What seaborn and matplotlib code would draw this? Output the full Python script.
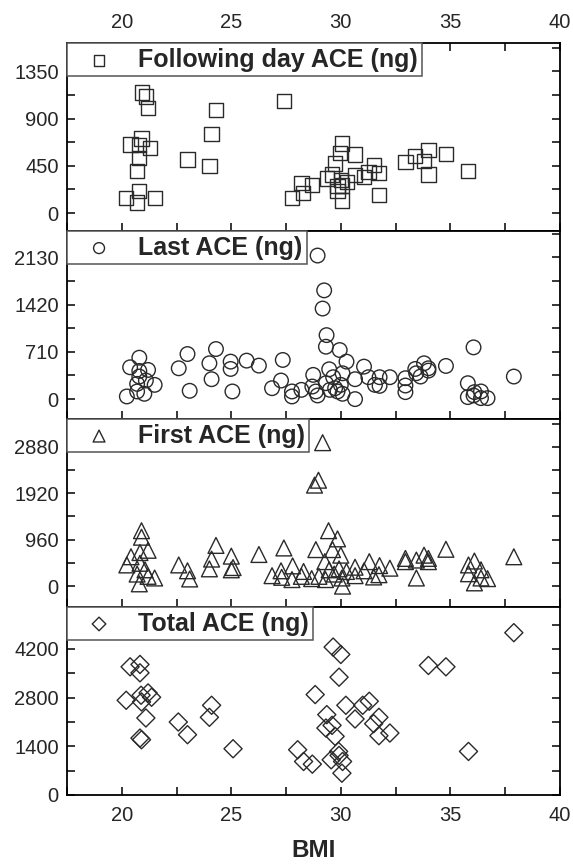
import numpy as np
import pandas as pd
import matplotlib
matplotlib.use("Agg")
import matplotlib.pyplot as plt
from matplotlib.ticker import MultipleLocator
import seaborn as sns

# ---------------- data ----------------
fd_bmi = [20.91, 21.1, 21.2, 24.3, 27.4, 24.1, 20.9, 20.4, 20.8, 21.3, 20.8, 23.0,
          24.0, 20.7, 20.8, 20.2, 20.7, 21.5, 30.05, 29.95, 30.65, 29.74, 34.0, 33.4,
          32.95, 33.8, 34.8, 34.0, 35.8, 31.5, 31.26, 31.74, 30.65, 31.06, 29.6, 29.36,
          30.0, 30.3, 29.85, 30.05, 28.2, 28.7, 28.26, 27.77, 29.85, 30.05, 31.74]
fd_ace = [1148, 1110, 998, 979, 1069, 756, 711, 654, 648, 622, 526, 510,
          447, 399, 214, 144, 102, 144, 664, 574, 558, 472, 600, 542,
          485, 494, 565, 367, 399, 456, 392, 383, 360, 341, 367, 329,
          319, 293, 255, 262, 287, 265, 191, 144, 207, 121, 169]

last_bmi = [28.94, 29.24, 29.17, 29.35, 29.32, 29.95, 30.26, 20.38, 20.8, 20.8, 21.2, 20.7,
            21.1, 21.5, 20.7, 21.03, 20.23, 20.8, 22.6, 23.0, 23.1, 24.0, 24.1, 24.3,
            24.97, 24.97, 25.05, 25.7, 26.26, 26.86, 27.27, 27.35, 27.77, 27.77, 28.2, 28.7,
            28.74, 28.86, 28.94, 29.32, 29.47, 29.65, 29.5, 29.74, 30.0, 30.08, 29.85, 30.08,
            30.65, 30.65, 31.06, 31.26, 31.56, 31.77, 31.77, 32.24, 32.95, 32.95, 32.95, 33.4,
            33.44, 33.64, 33.8, 34.0, 34.0, 34.8, 36.06, 35.8, 35.8, 36.1, 36.4, 36.4,
            36.7, 36.06, 37.9]
last_ace = [2156, 1633, 1360, 961, 787, 737, 563, 478, 622, 423, 438, 229,
            279, 214, 115, 80, 40, 339, 463, 677, 125, 538, 299, 752,
            563, 453, 115, 578, 503, 164, 279, 588, 115, 40, 139, 189,
            364, 115, 55, 239, 448, 329, 139, 164, 214, 388, 115, 80,
            299, 0, 488, 329, 214, 199, 329, 329, 314, 204, 105, 453,
            388, 339, 538, 463, 428, 498, 777, 239, 30, 105, 115, 15,
            15, 55, 339]

first_bmi = [29.17, 28.98, 28.8, 20.9, 20.9, 29.44, 29.85, 24.3, 27.4, 28.86, 29.62, 34.8,
             21.2, 20.83, 20.42, 24.1, 25.0, 26.26, 30.0, 37.9, 32.95, 33.8, 34.0, 20.23,
             20.83, 22.6, 35.83, 36.1, 33.45, 32.95, 29.27, 27.8, 31.3, 31.77, 32.24, 30.65,
             24.0, 25.08, 25.0, 21.06, 23.0, 20.7, 21.5, 21.2, 23.1, 20.8, 26.86, 27.27,
             27.3, 27.77, 28.3, 28.2, 28.67, 29.0, 29.3, 29.47, 29.7, 29.92, 30.05, 30.08,
             30.26, 30.65, 31.06, 31.5, 31.74, 33.45, 35.83, 36.4, 36.1, 36.4, 36.7, 34.0]
first_ace = [2966, 2190, 2089, 1146, 1011, 1146, 977, 842, 789, 755, 755, 762,
             741, 694, 607, 559, 620, 654, 640, 607, 573, 640, 573, 438,
             472, 438, 438, 519, 539, 506, 506, 418, 506, 425, 371, 391,
             357, 384, 337, 337, 317, 249, 168, 202, 148, 47, 216, 317,
             182, 135, 303, 202, 155, 202, 135, 337, 249, 357, 168, 0,
             303, 216, 317, 189, 236, 168, 256, 337, 67, 168, 155, 506]

total_bmi = [37.9, 29.65, 30.0, 29.92, 34.0, 34.8, 20.38, 20.83, 20.83, 20.2, 20.88, 21.2,
             21.36, 20.9, 21.1, 20.83, 20.9, 22.58, 23.0, 24.1, 24.0, 25.08, 28.83, 30.23,
             30.65, 31.0, 31.3, 31.74, 31.5, 31.74, 32.24, 29.36, 29.6, 29.32, 29.74, 35.83,
             28.03, 28.3, 28.7, 29.9, 29.56, 29.92, 30.08, 30.05]
total_ace = [4666, 4252, 4040, 3386, 3723, 3684, 3684, 3752, 3511, 2722, 2867, 2934,
             2809, 2674, 2213, 1635, 1587, 2097, 1732, 2578, 2232, 1328, 2886, 2578,
             2184, 2578, 2694, 2232, 2049, 1703, 1780, 2309, 2001, 1924, 1684, 1251,
             1299, 962, 885, 1251, 1010, 1135, 962, 625]

labels = ["Following day ACE (ng)", "Last ACE (ng)", "First ACE (ng)", "Total ACE (ng)"]
y_major = [450, 710, 960, 1400]
y_limits = [(-172, 1618), (-300, 2522), (-432, 3454), (0, 5404)]
x_ticks = [20, 25, 30, 35, 40]

# ---------------- style ----------------
sns.set_style("ticks")
plt.rcParams["font.family"] = ["Liberation Sans", "DejaVu Sans"]

fig = plt.figure(figsize=(5.73, 8.65), dpi=100)
gs = fig.add_gridspec(4, 1, left=0.117, right=0.977, top=0.950, bottom=0.081, hspace=0)
axes = [fig.add_subplot(gs[i]) for i in range(4)]

series = [(fd_bmi, fd_ace, "s", 105), (last_bmi, last_ace, "o", 110),
          (first_bmi, first_ace, "^", 130), (total_bmi, total_ace, "D", 85)]

for i, (ax, (xs, ys, mk, sz)) in enumerate(zip(axes, series)):
    df = pd.DataFrame({"BMI": xs, "ACE": ys})
    sns.scatterplot(data=df, x="BMI", y="ACE", ax=ax, marker=mk, s=sz,
                    facecolor="none", edgecolor="#2a2a2a", linewidth=1.0,
                    label=labels[i], legend=False)
    ax.set_xlim(17.5, 40)
    ax.set_ylim(*y_limits[i])
    ax.xaxis.set_major_locator(MultipleLocator(5))
    ax.xaxis.set_minor_locator(MultipleLocator(2.5))
    ax.yaxis.set_major_locator(MultipleLocator(y_major[i]))
    ax.yaxis.set_minor_locator(MultipleLocator(y_major[i] / 2))
    ax.set_ylabel("")
    ax.set_xlabel("")
    for s in ax.spines.values():
        s.set_visible(True)
        s.set_linewidth(1.3)
        s.set_color("black")
    ax.tick_params(which="both", direction="in", length=6, width=1.1, color="black",
                   left=True, right=True, labelleft=True, labelright=False,
                   bottom=True, top=(i == 0), labelbottom=(i == 3), labeltop=(i == 0),
                   labelsize=14.5)
    ax.tick_params(axis="x", which="both", pad=8)
    ax.tick_params(axis="y", which="both", pad=6)
    ax.set_xticks(x_ticks)
    leg = ax.legend(loc="upper left", bbox_to_anchor=(0, 1), borderaxespad=0,
                    frameon=True, fancybox=False, edgecolor="#555555",
                    prop={"weight": "bold", "size": 18}, handlelength=2.2,
                    handletextpad=0.45, borderpad=0.18, markerscale=0.75)
    leg.get_frame().set_linewidth(1.1)
    leg.get_frame().set_alpha(1)
    leg.set_zorder(5)

axes[3].set_xlabel("BMI", fontsize=17.5, fontweight="bold", labelpad=10)

fig.savefig("out.png", dpi=100)
